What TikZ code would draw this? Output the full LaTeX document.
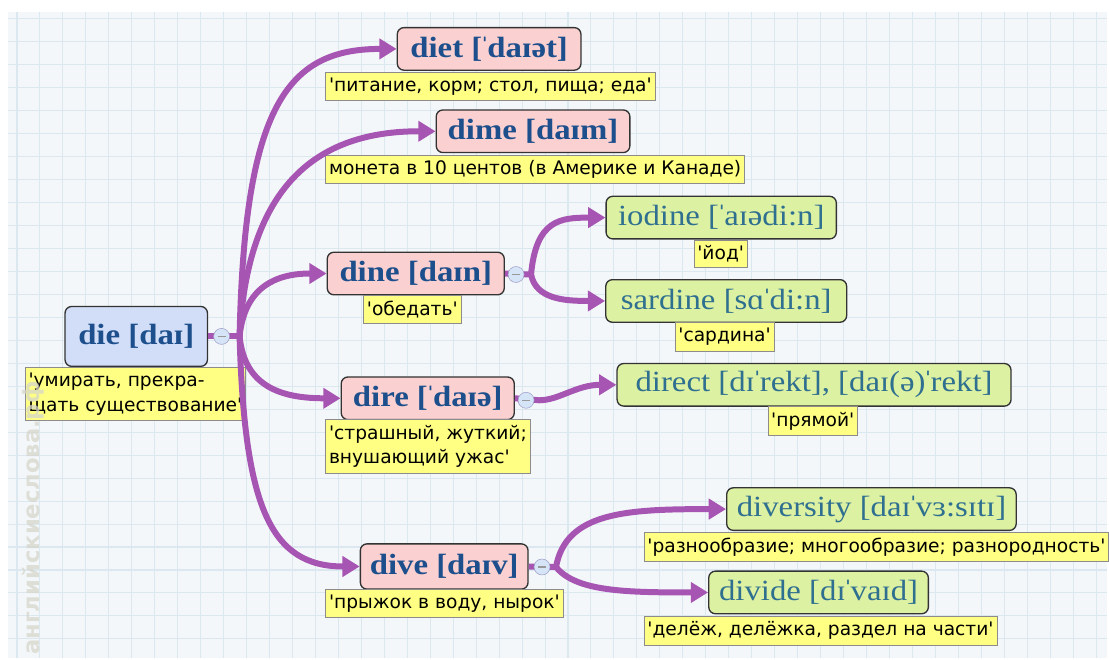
\documentclass[tikz,border=0pt]{standalone}
\usepackage{fontspec}
\setmainfont{Liberation Serif}
\newfontfamily\wordfont[FakeStretch=1.12]{Liberation Serif}
\newfontfamily\notefont{DejaVu Sans}
\usetikzlibrary{arrows.meta}

\definecolor{branchc}{HTML}{A655B2}
\definecolor{rootfill}{HTML}{D2DEF8}
\definecolor{wordfill}{HTML}{FBD0D0}
\definecolor{leaffill}{HTML}{DDF1A3}
\definecolor{notefill}{HTML}{FFFF84}
\definecolor{wordtext}{HTML}{1C4F8C}
\definecolor{leaftext}{HTML}{2F6F8F}
\definecolor{gridc}{HTML}{DCE8F0}
\definecolor{paper}{HTML}{F4F7FA}
\definecolor{btnfill}{HTML}{D6E4F8}
\definecolor{markc}{HTML}{D6D6CA}

% stress mark set tight
\newcommand\strs{\kern-0.1em ˈ\kern-0.1em}

\begin{document}
\begin{tikzpicture}[x=0.75pt, y=-0.75pt,
  root/.style={draw=black!80, fill=rootfill, rounded corners=5pt, line width=1pt,
               minimum width=107pt, minimum height=45pt, inner sep=0pt,
               font=\wordfont\bfseries\fontsize{22}{24}\selectfont, text=wordtext},
  word/.style={draw=black!80, fill=wordfill, rounded corners=5pt, line width=1pt,
               minimum height=32pt, inner sep=0pt,
               font=\wordfont\bfseries\fontsize{22}{24}\selectfont, text=wordtext},
  leaf/.style={draw=black!80, fill=leaffill, rounded corners=5pt, line width=1pt,
               minimum height=32pt, inner sep=0pt,
               font=\wordfont\fontsize{22}{24}\selectfont, text=leaftext},
  note/.style={draw=black!45, fill=notefill, anchor=north west, align=left,
               inner xsep=2.5pt, inner ysep=4pt,
               font=\notefont\fontsize{14}{18.5}\selectfont},
  btn/.style={circle, draw=blue!25!gray!60, fill=btnfill, minimum size=12pt, inner sep=0pt,
              path picture={\draw[gray!80, line width=0.8pt]
                ([xshift=-3pt]path picture bounding box.center) --
                ([xshift=3pt]path picture bounding box.center);}},
  branch/.style={draw=branchc, line width=4.5pt,
                 -{Triangle[length=13pt, width=15pt]}},
  stub/.style={draw=branchc, line width=4.5pt}
]
% paper and grid
\fill[white] (0,0) rectangle (1109,659);
\fill[paper] (8,12) rectangle (1109,659);
\foreach \gx in {17,40,...,1109}
  \draw[gridc, line width=0.8pt] (\gx,12) -- (\gx,659);
\foreach \gy in {19,42,...,659}
  \draw[gridc, line width=0.8pt] (8,\gy) -- (1109,\gy);

% words
\node[root] (die) at (136.5,337) {die [daɪ]};
\node[word, minimum width=138pt]   (diet) at (490,49)    {diet [\strs daɪət]};
\node[word, minimum width=145.5pt] (dime) at (534,131.5) {dime [daɪm]};
\node[word, minimum width=133pt]   (dine) at (416.5,274) {dine [daɪn]};
\node[word, minimum width=130pt]   (dire) at (428.5,399) {dire [\strs daɪə]};
\node[word, minimum width=126pt, minimum height=34pt] (dive) at (445,567.5) {dive [daɪv]};
\node[leaf, minimum width=173pt]   (iodine)    at (722.5,218)   {iodine [\strs aɪədi:n]};
\node[leaf, minimum width=181pt]   (sardine)   at (727.5,301.5) {sardine [sɑ\strs di:n]};
\node[leaf, minimum width=296pt]   (direct)    at (815.5,385.5) {direct [dɪ\strs rekt], [daɪ(ə)\strs rekt]};
\node[leaf, minimum width=217.5pt] (diversity) at (873,510)     {diversity [daɪ\strs vɜ:sɪtɪ]};
\node[leaf, minimum width=165pt]   (divide)    at (820,593.5)   {divide [dɪ\strs vaɪd]};

% translations
\node[note] (ndie)       at (25,368)  {'умирать, прекра-\\щать существование'};
\node[note] (ndiet)      at (326,72)  {'питание, корм; стол, пища; еда'};
\node[note] (ndime)      at (326,155) {монета в 10 центов (в Америке и Канаде)};
\node[note] (ndine)      at (364,296) {'обедать'};
\node[note] (niodine)    at (695,240) {'йод'};
\node[note] (nsardine)   at (676,323) {'сардина'};
\node[note] (ndire)      at (326,420) {'страшный, жуткий;\\внушающий ужас'};
\node[note] (ndirect)    at (769,407) {'прямой'};
\node[note] (ndive)      at (326,590) {'прыжок в воду, нырок'};
\node[note] (ndiversity) at (645,533) {'разнообразие; многообразие; разнородность'};
\node[note] (ndivide)    at (645,617) {'делёж, делёжка, раздел на части'};

% branch forks
\coordinate (jdie)  at (240,337);
\coordinate (jdine) at (532,275);
\coordinate (jdire) at (540,401);
\coordinate (jdive) at (557,568);

\draw[stub] (die.east) -- (jdie);
\draw[branch] (jdie) .. controls +(5,-230) and +(-110,0) .. (diet.west);
\draw[branch] (jdie) .. controls +(8,-150) and +(-120,0) .. (dime.west);
\draw[branch] (jdie) .. controls +(5,-50) and +(-50,0) .. (dine.west);
\draw[branch] (jdie) .. controls +(5,50) and +(-60,0) .. (dire.west);
\draw[branch] (jdie) .. controls +(5,170) and +(-90,0) .. (dive.west);

\draw[stub] (dine.east) -- (jdine);
\draw[branch] (jdine) .. controls +(5,-55) and +(-45,0) .. (iodine.west);
\draw[branch] (jdine) .. controls +(5,25) and +(-40,0) .. (sardine.west);

\draw[stub] (dire.east) -- (jdire);
\draw[branch] (jdire) .. controls +(20,0) and +(-40,0) .. (direct.west);

\draw[stub] (dive.east) -- (jdive);
\draw[branch] (jdive) .. controls +(10,-55) and +(-100,0) .. (diversity.west);
\draw[branch] (jdive) .. controls +(20,25) and +(-80,0) .. (divide.west);

% collapse buttons
\node[btn] (bdie)  at (222,337) {};
\node[btn] (bdine) at (517,275) {};
\node[btn] (bdire) at (527,401) {};
\node[btn] (bdive) at (543,568) {};

% watermark
\node[rotate=90, text=markc, opacity=0.75, font=\notefont\bfseries\fontsize{17}{17}\selectfont]
  (mark) at (33,519) {английскиеслова.рф};
\end{tikzpicture}
\end{document}
